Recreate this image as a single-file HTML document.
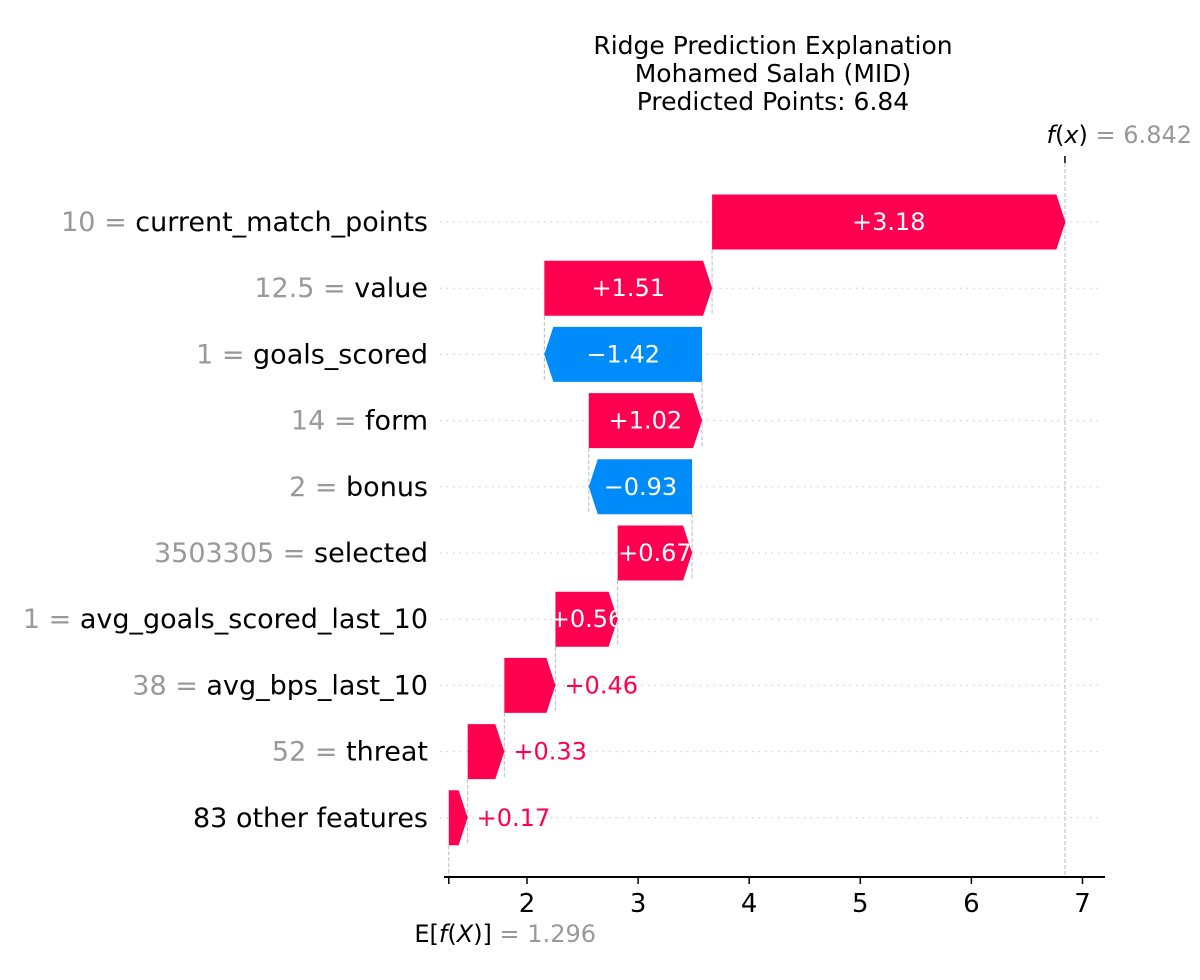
<!DOCTYPE html>
<html><head><meta charset="utf-8">
<style>
html,body{margin:0;padding:0;background:#fff;}
svg text{font-family:"DejaVu Sans","Liberation Sans",sans-serif;}
</style></head>
<body>
<svg id="chart" width="1200" height="975" xmlns="http://www.w3.org/2000/svg">
<g font-size="25" text-anchor="middle" fill="#000">
<text x="773" y="54">Ridge Prediction Explanation</text>
<text x="773" y="82">Mohamed Salah (MID)</text>
<text x="773" y="110">Predicted Points: 6.84</text>
</g>
<g id="grid"></g>
<g id="links"></g>
<g id="bars"></g>
<g id="labels"></g>
<g id="axis"></g>
</svg>
<script>
const features = ["current_match_points","value","goals_scored","form","bonus","selected","avg_goals_scored_last_10","avg_bps_last_10","threat","83 other features"];
const featureValues = ["10","12.5","1","14","2","3503305","1","38","52",""];
const contributions = [3.18,1.51,-1.42,1.02,-0.93,0.67,0.56,0.46,0.33,0.17];
const baseValue = 1.296;
const fxValue = 6.842;
const ticks = [2,3,4,5,6,7];

const NS="http://www.w3.org/2000/svg";
const xs = v => 527 + (v-2)*111.1;
const rowY = i => 222 + i*66.2;
const H = 55, HEAD = 9;
function mk(tag, attrs, parent, text){
  const e=document.createElementNS(NS,tag);
  for(const k in attrs) e.setAttribute(k,attrs[k]);
  if(text!==undefined) e.textContent=text;
  parent.appendChild(e); return e;
}
const grid=document.getElementById('grid'), links=document.getElementById('links'),
      bars=document.getElementById('bars'), labels=document.getElementById('labels'), axis=document.getElementById('axis');

const n=features.length;
const starts=new Array(n), ends=new Array(n);
let cur=baseValue;
for(let i=n-1;i>=0;i--){ starts[i]=cur; cur+=contributions[i]; ends[i]=cur; }

for(let i=0;i<n;i++){
  const y=rowY(i);
  const g=mk('line',{x1:440,x2:1102,y1:y,y2:y,stroke:'#ccc','stroke-width':1,'stroke-dasharray':'1.5,5'},grid);
  
  
  const t=mk('text',{x:428,y:y+9,'font-size':27,'text-anchor':'end'},labels);
  
  
  if(featureValues[i]!==''){
    mk('tspan',{fill:'#999'},t,featureValues[i]+' = ');
  }
  mk('tspan',{fill:'#000'},t,features[i]);
  const a=xs(starts[i]), b=xs(ends[i]);
  const top=y-H/2, bot=y+H/2;
  const pos=contributions[i]>0;
  const w=Math.abs(b-a), hl=Math.min(HEAD,w);
  let pts;
  if(pos) pts=[[a,top],[b-hl,top],[b,y],[b-hl,bot],[a,bot]];
  else pts=[[a,top],[b+hl,top],[b,y],[b+hl,bot],[a,bot]];
  const p=mk('polygon',{points:pts.map(q=>q.join(',')).join(' '),fill:pos?'#ff0051':'#008bfb'},bars);
  
  
  const txt=(pos?'+':'\u2212')+Math.abs(contributions[i]).toFixed(2);
  let vl;
  if(w>55){
    vl=mk('text',{x:(a+b)/2,y:y+8,'font-size':24,'text-anchor':'middle',fill:'#fff'},labels,txt);
  } else {
    vl=mk('text',{x:Math.max(a,b)+9,y:y+8,'font-size':24,'text-anchor':'start',fill:pos?'#ff0051':'#008bfb'},labels,txt);
  }
  
  
  if(i>0){
    const l=mk('line',{x1:b,x2:b,y1:rowY(i-1)+H/2,y2:bot,stroke:'#bbb','stroke-width':1,'stroke-dasharray':'4,2'},links);
    
    
  }
}
const bl=mk('line',{x1:xs(baseValue),x2:xs(baseValue),y1:rowY(n-1)+H/2,y2:877,stroke:'#bbb','stroke-width':1,'stroke-dasharray':'4,2'},links);


const fl=mk('line',{x1:xs(fxValue),x2:xs(fxValue),y1:163,y2:877,stroke:'#bbb','stroke-width':1,'stroke-dasharray':'4,2'},links);



const ax=mk('line',{x1:444,x2:1105,y1:877,y2:877,stroke:'#000','stroke-width':2},axis);


for(const tv of ticks){
  const tk=mk('line',{x1:xs(tv),x2:xs(tv),y1:877,y2:884,stroke:'#000','stroke-width':1.5},axis);
  
  
  const tl=mk('text',{x:xs(tv),y:912,'font-size':26,'text-anchor':'middle',fill:'#000'},axis,String(tv));
  
  
}
const bt=mk('line',{x1:xs(baseValue),x2:xs(baseValue),y1:877,y2:884,stroke:'#000','stroke-width':1.5},axis);


const tt=mk('line',{x1:xs(fxValue),x2:xs(fxValue),y1:156,y2:163,stroke:'#000','stroke-width':1.5},axis);



const bLab=mk('text',{x:596,y:942,'font-size':24,'text-anchor':'end'},axis);


mk('tspan',{fill:'#000'},bLab,'E[');
mk('tspan',{fill:'#000','font-style':'italic'},bLab,'f');
mk('tspan',{fill:'#000'},bLab,'(');
mk('tspan',{fill:'#000','font-style':'italic'},bLab,'X');
mk('tspan',{fill:'#000'},bLab,')]');
mk('tspan',{fill:'#999'},bLab,' = '+baseValue.toFixed(3));

const fLab=mk('text',{x:1192,y:143,'font-size':24,'text-anchor':'end'},axis);


mk('tspan',{fill:'#000','font-style':'italic'},fLab,'f');
mk('tspan',{fill:'#000'},fLab,'(');
mk('tspan',{fill:'#000','font-style':'italic'},fLab,'x');
mk('tspan',{fill:'#000'},fLab,')');
mk('tspan',{fill:'#999'},fLab,' = '+fxValue.toFixed(3));
</script>
</body></html>
